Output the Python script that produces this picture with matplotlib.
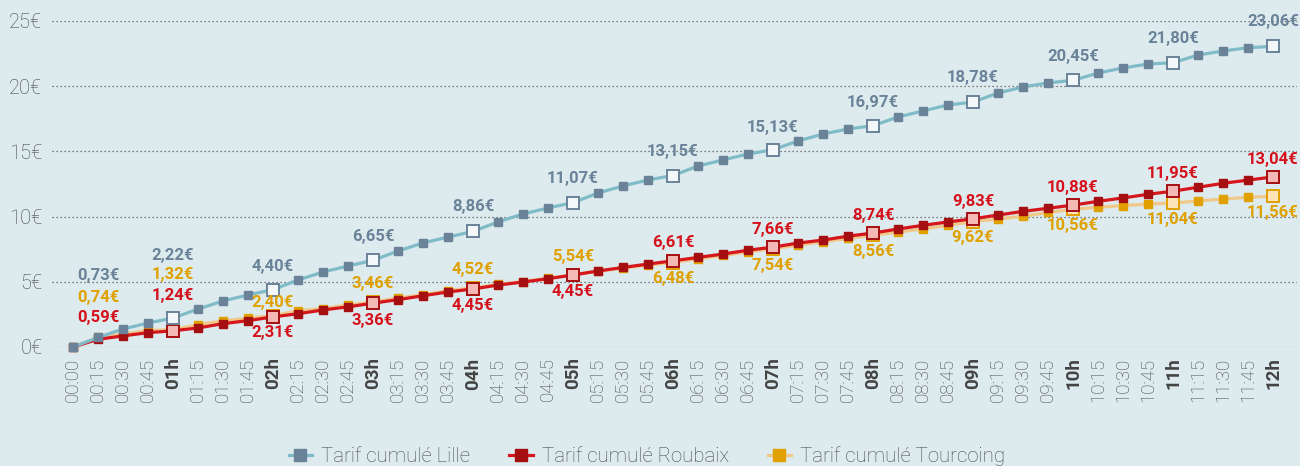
import matplotlib
matplotlib.use("Agg")
import matplotlib.pyplot as plt
from matplotlib.lines import Line2D
from matplotlib.ticker import FuncFormatter, FixedLocator

# ---------------- data ----------------
time_labels = ["00:00", "00:15", "00:30", "00:45", "01h", "01:15", "01:30", "01:45",
               "02h", "02:15", "02:30", "02:45", "03h", "03:15", "03:30", "03:45",
               "04h", "04:15", "04:30", "04:45", "05h", "05:15", "05:30", "05:45",
               "06h", "06:15", "06:30", "06:45", "07h", "07:15", "07:30", "07:45",
               "08h", "08:15", "08:30", "08:45", "09h", "09:15", "09:30", "09:45",
               "10h", "10:15", "10:30", "10:45", "11h", "11:15", "11:30", "11:45",
               "12h"]

lille = [0.00, 0.73, 1.38, 1.84, 2.22, 2.91, 3.53, 3.99, 4.40, 5.14, 5.75, 6.21,
         6.65, 7.36, 7.98, 8.43, 8.86, 9.59, 10.20, 10.66, 11.07, 11.81, 12.35, 12.81,
         13.15, 13.88, 14.34, 14.80, 15.13, 15.80, 16.33, 16.72, 16.97, 17.64, 18.10, 18.56,
         18.78, 19.48, 19.94, 20.25, 20.45, 21.01, 21.40, 21.70, 21.80, 22.39, 22.70, 22.95,
         23.06]

roubaix = [0.00, 0.59, 0.85, 1.10, 1.24, 1.46, 1.79, 2.02, 2.31, 2.55, 2.84, 3.08,
           3.36, 3.63, 3.93, 4.22, 4.45, 4.75, 4.98, 5.24, 5.52, 5.83, 6.10, 6.36,
           6.61, 6.87, 7.13, 7.42, 7.66, 7.97, 8.20, 8.50, 8.74, 9.05, 9.33, 9.59,
           9.83, 10.12, 10.40, 10.64, 10.88, 11.17, 11.43, 11.71, 11.95, 12.25, 12.55, 12.80,
           13.04]

tourcoing = [0.00, 0.74, 0.98, 1.28, 1.32, 1.72, 2.00, 2.22, 2.40, 2.78, 2.95, 3.22,
             3.46, 3.76, 4.00, 4.33, 4.52, 4.80, 5.02, 5.28, 5.54, 5.80, 6.05, 6.28,
             6.48, 6.76, 7.02, 7.30, 7.54, 7.82, 8.06, 8.33, 8.56, 8.82, 9.05, 9.33,
             9.62, 9.82, 10.02, 10.32, 10.56, 10.72, 10.84, 10.96, 11.04, 11.20, 11.35, 11.48,
             11.56]

label_idx = [1, 4, 8, 12, 16, 20, 24, 28, 32, 36, 40, 44, 48]
lille_labels = ["0,73€", "2,22€", "4,40€", "6,65€", "8,86€", "11,07€", "13,15€",
                "15,13€", "16,97€", "18,78€", "20,45€", "21,80€", "23,06€"]
roubaix_labels = ["0,59€", "1,24€", "2,31€", "3,36€", "4,45€", "4,45€", "6,61€",
                  "7,66€", "8,74€", "9,83€", "10,88€", "11,95€", "13,04€"]
tourcoing_labels = ["0,74€", "1,32€", "2,40€", "3,46€", "4,52€", "5,54€", "6,48€",
                    "7,54€", "8,56€", "9,62€", "10,56€", "11,04€", "11,56€"]

series_names = ["Tarif cumulé Lille", "Tarif cumulé Roubaix", "Tarif cumulé Tourcoing"]

# ---------------- layout / style ----------------
# label vertical offsets in pixels (positive = up)
lille_off = [62, 63, 23, 24, 25, 24, 24, 22, 23, 25, 24, 24, 25]
roubaix_off = [22, 35, -16, -17, -17, -16, 18, 18, 18, 17, 18, 18, 17]
tourcoing_off = [40, 55, 13, 18, 19, 18, -16, -17, -16, -16, -16, -16, -16]

BG = "#ddeaee"
styles = {
    "lille": dict(line="#80bcc8", marker="#6a8399", fill="#f3f7f9", text="#6a8399", z=5),
    "roubaix": dict(line="#d5161c", marker="#a50f12", fill="#f4b9b4", text="#d5121b", z=4),
    "tourcoing": dict(line="#f0c98a", marker="#e0a100", fill="#fde3b8", text="#e0a100", z=3),
}

plt.rcParams['font.family'] = ['Roboto', 'DejaVu Sans']

fig = plt.figure(figsize=(13, 4.66), dpi=100, facecolor=BG)
ax = fig.add_axes([52 / 1300, 1 - 347 / 466, (1297 - 52) / 1300, (347 - 21) / 466])
ax.set_facecolor(BG)

x = list(range(len(time_labels)))
hour_idx = [i for i in range(4, len(x), 4)]

data = [("lille", lille, lille_labels, lille_off),
        ("roubaix", roubaix, roubaix_labels, roubaix_off),
        ("tourcoing", tourcoing, tourcoing_labels, tourcoing_off)]

for key, vals, labs, offs in data:
    st = styles[key]
    ax.plot(x, vals, color=st["line"], lw=2.3, zorder=st["z"], clip_on=False,
            marker="s", markersize=5.8, markerfacecolor=st["marker"],
            markeredgecolor=st["marker"], markevery=[i for i in x if i not in hour_idx])
    ax.plot([x[i] for i in hour_idx], [vals[i] for i in hour_idx], ls="none",
            marker="s", markersize=8.5, markerfacecolor=st["fill"],
            markeredgecolor=st["marker"], markeredgewidth=1.4, zorder=st["z"] + 0.5,
            clip_on=False)
    for i, t, o in zip(label_idx, labs, offs):
        ax.annotate(t, (x[i], vals[i]), xytext=(0, o), textcoords="offset pixels",
                    ha="center", va="center", fontsize=12, fontweight="bold",
                    color=st["text"], zorder=10, annotation_clip=False)

ax.set_xlim(-0.84, 48.96)
ax.set_ylim(0, 25)
ax.yaxis.set_major_locator(FixedLocator([0, 5, 10, 15, 20, 25]))
ax.yaxis.set_major_formatter(FuncFormatter(lambda v, p: f"{int(v)}€"))
ax.set_xticks(x)
ax.set_xticklabels(time_labels, rotation=90, va="top", ha="center")
for i, lab in enumerate(ax.get_xticklabels()):
    if time_labels[i].endswith("h"):
        lab.set_fontweight("bold")
        lab.set_color("#444444")
    else:
        lab.set_fontweight("light")
        lab.set_color("#4a4a4a")
    lab.set_fontsize(13.5)
for lab in ax.get_yticklabels():
    lab.set_fontweight("light")
    lab.set_color("#444444")
    lab.set_fontsize(14.5)

ax.tick_params(axis="both", length=0)
ax.tick_params(axis="x", pad=7.5)
ax.tick_params(axis="y", pad=7)
for s in ax.spines.values():
    s.set_visible(False)
ax.yaxis.grid(True, color="#555555", linestyle=(0, (1, 2.2)), linewidth=0.9)
ax.set_axisbelow(True)

handles = []
for key, name in zip(["lille", "roubaix", "tourcoing"], series_names):
    st = styles[key]
    handles.append(Line2D([0], [0], color=st["line"], lw=2.3, marker="s", markersize=8,
                          markerfacecolor=st["marker"], markeredgecolor=st["marker"]))
leg = fig.legend(handles, series_names, loc="center", bbox_to_anchor=(647 / 1300, 1 - 456 / 466),
                 ncol=3, frameon=False, handlelength=1.15, handletextpad=0.45,
                 columnspacing=1.9, prop={"size": 14.7, "weight": "light"})
for t in leg.get_texts():
    t.set_color("#4a4a4a")

fig.savefig("out.png", dpi=100, facecolor=BG)
